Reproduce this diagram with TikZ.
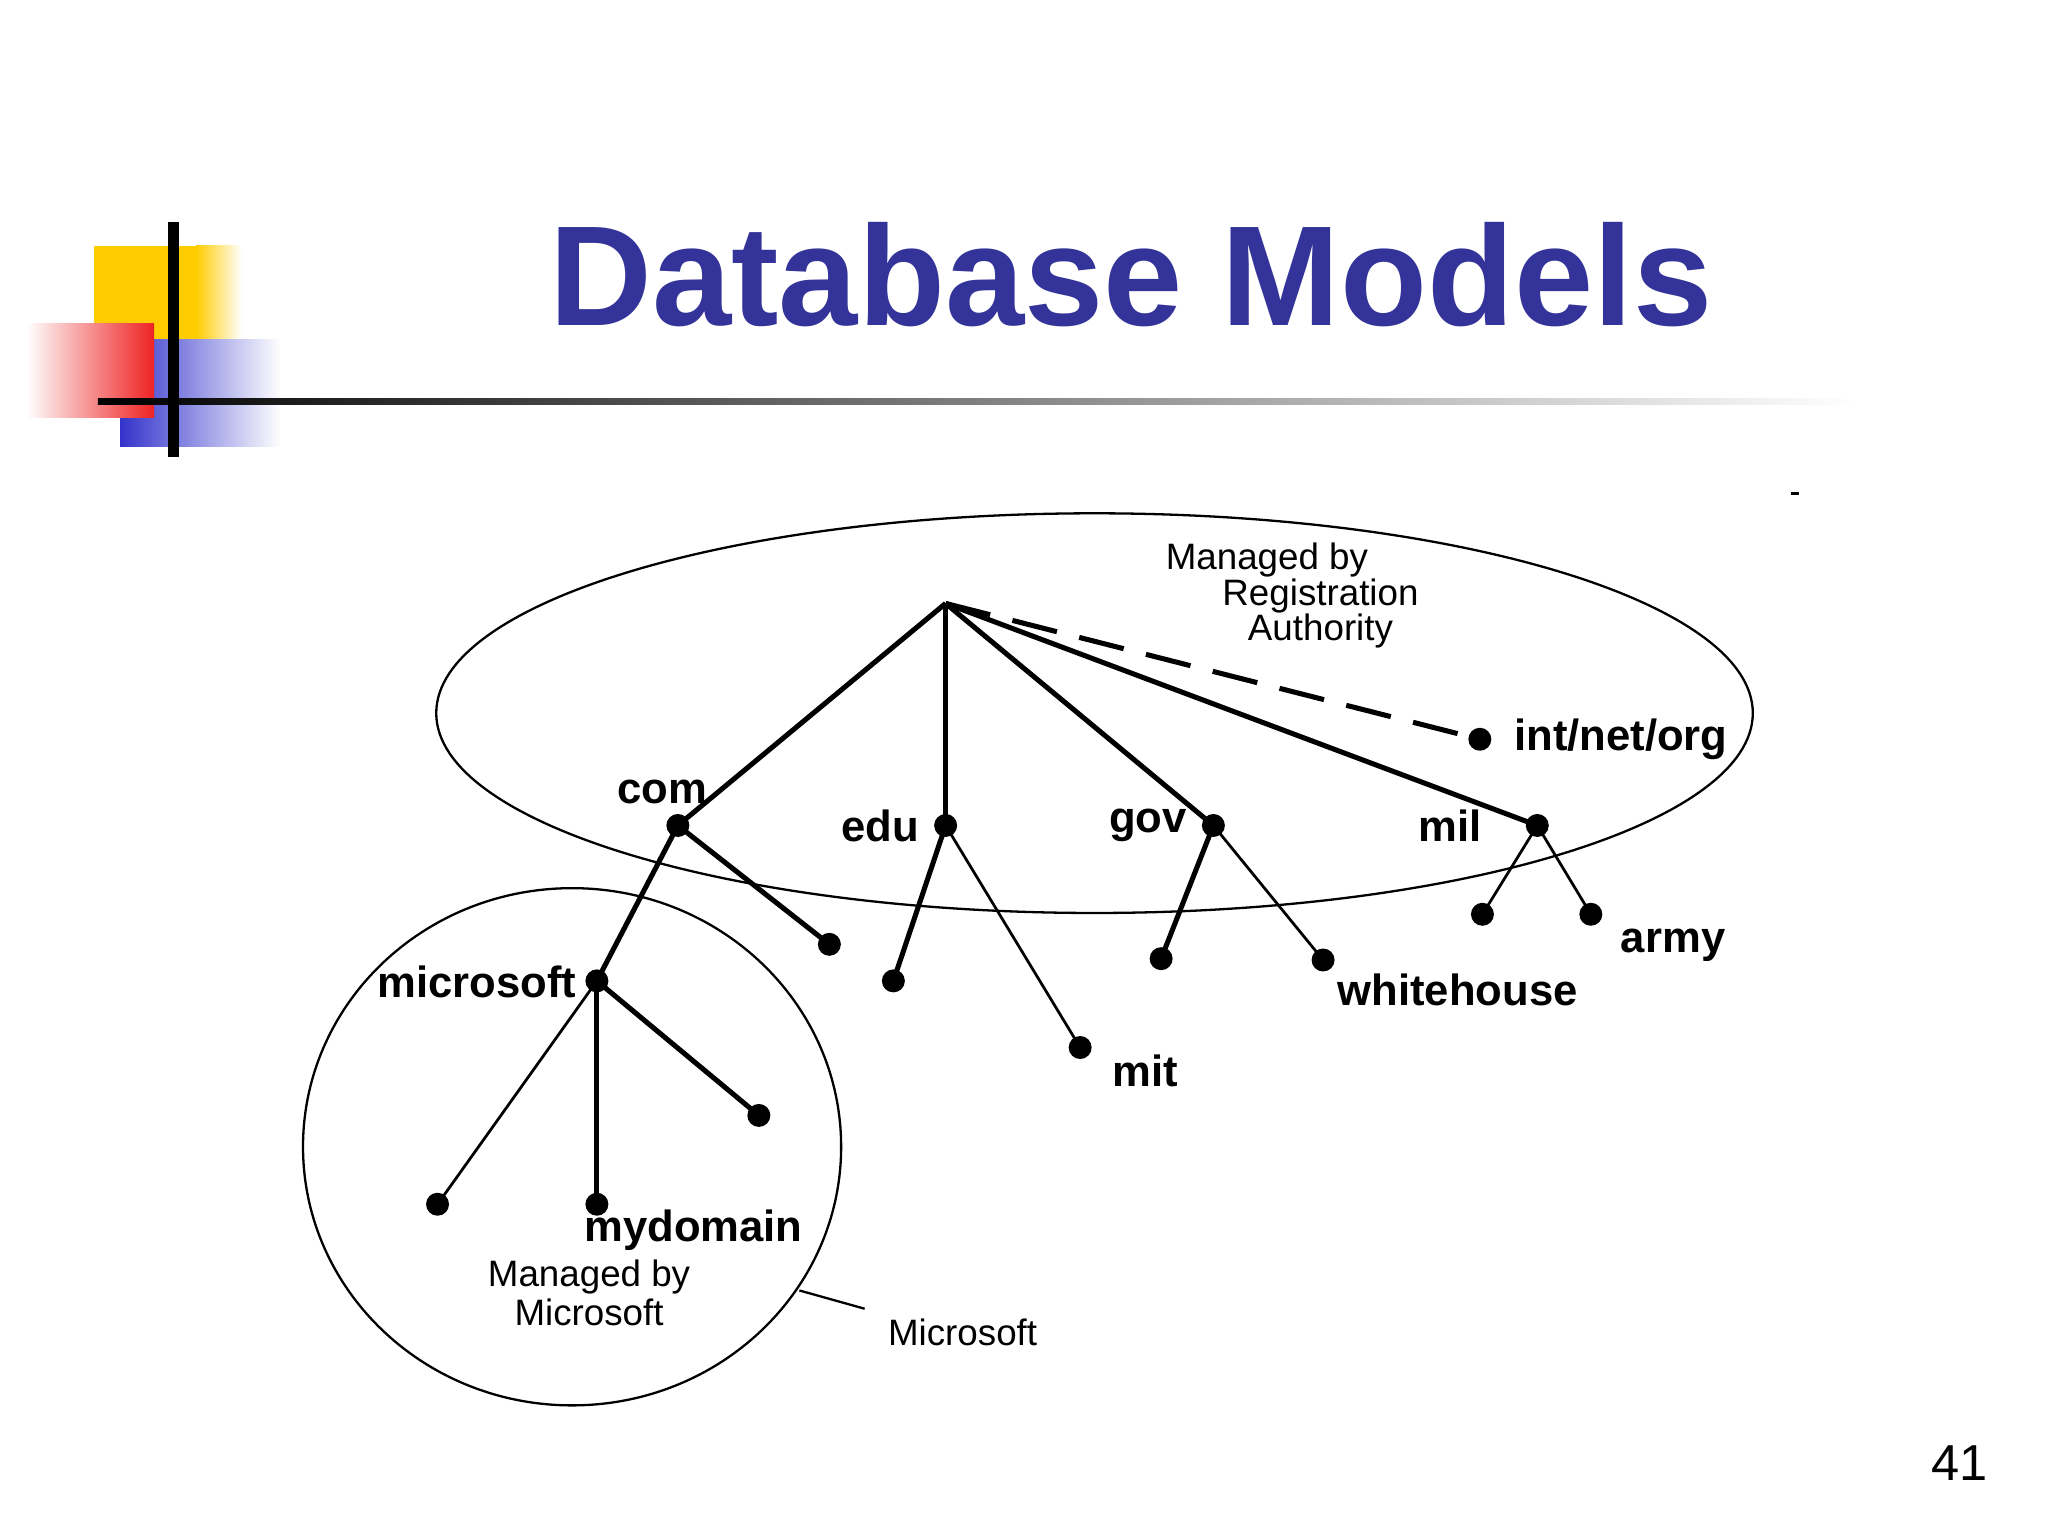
\documentclass[tikz,border=0pt]{standalone}
\usepackage{fontspec}
\setmainfont{Liberation Sans}
\definecolor{tblue}{HTML}{333399}
\definecolor{lyel}{HTML}{FFCC00}
\definecolor{lred}{HTML}{EE2222}
\definecolor{lblue}{HTML}{3333CC}
\begin{document}
\begin{tikzpicture}[x=0.01cm,y=-0.01cm,
  dot/.style={circle,fill=black,inner sep=0pt,minimum size=5pt},
  lab/.style={font=\bfseries\fontsize{9.5}{11}\selectfont},
  thin/.style={font=\fontsize{8}{9.5}\selectfont},
  edge/.style={line width=1.1pt}]
\useasboundingbox (0,0) rectangle (1568,1176);
% logo
\fill[lyel] (72,188) rectangle (150,262);
\shade[left color=lyel,right color=white] (150,188) rectangle (185,262);
\shade[left color=lblue,right color=white] (92,260) rectangle (215,342);
\shade[left color=white,right color=lred] (20,248) rectangle (118,320);
\shade[left color=black,right color=white] (75,305) rectangle (1420,310);
\draw[line width=2.5pt] (133,170) -- (133,350);
% title
\node[font=\bfseries\fontsize{31}{36}\selectfont,text=tblue] (title) at (866,210) {Database Models};
% shapes
\draw[line width=0.5pt] (838,546) ellipse [x radius=504,y radius=153];
\draw[line width=0.5pt] (438,878) ellipse [x radius=206,y radius=198];
% nodes
\node[inner sep=0pt] (root) at (724,462) {};
\node[dot] (com) at (519,632) {};
\node[dot] (edu) at (724,632) {};
\node[dot] (gov) at (929,632) {};
\node[dot] (mil) at (1177,632) {};
\node[dot] (ino) at (1133,566) {};
\node[dot] (c1) at (635,723) {};
\node[dot] (ms) at (457,751) {};
\node[dot] (m1) at (335,922) {};
\node[dot] (m2) at (457,922) {};
\node[dot] (m3) at (581,854) {};
\node[dot] (e1) at (684,751) {};
\node[dot] (e2) at (827,802) {};
\node[dot] (g1) at (889,734) {};
\node[dot] (g2) at (1013,735) {};
\node[dot] (l1) at (1135,700) {};
\node[dot] (l2) at (1218,700) {};
\draw[edge] (root.center) -- (com.center);
\draw[edge] (root.center) -- (edu.center);
\draw[edge] (root.center) -- (gov.center);
\draw[edge] (root.center) -- (mil.center);
\draw[edge,dash pattern=on 10pt off 5pt] (root.center) -- (ino.center);
\draw[edge] (com.center) -- (c1.center);
\draw[edge] (com.center) -- (ms.center);
\draw[edge,line width=0.6pt] (ms.center) -- (m1.center);
\draw[edge] (ms.center) -- (m2.center);
\draw[edge] (ms.center) -- (m3.center);
\draw[edge] (edu.center) -- (e1.center);
\draw[edge,line width=0.6pt] (edu.center) -- (e2.center);
\draw[edge] (gov.center) -- (g1.center);
\draw[edge,line width=0.6pt] (gov.center) -- (g2.center);
\draw[edge,line width=0.6pt] (mil.center) -- (l1.center);
\draw[edge,line width=0.6pt] (mil.center) -- (l2.center);
% labels
\node[lab] (tcom) at (507,606) {com};
\node[lab] (tedu) at (674,632) {edu};
\node[lab] (tgov) at (879,632) {gov};
\node[lab] (tmil) at (1110,632) {mil};
\node[lab] (tino) at (1241,566) {int/net/org};
\node[lab] (tarmy) at (1281,724) {army};
\node[lab] (twh) at (1116,758) {whitehouse};
\node[lab] (tmit) at (877,820) {mit};
\node[lab] (tms) at (365,752) {microsoft};
\node[lab] (tmy) at (531,942) {mydomain};
\node[thin] (a1) at (970,429) {Managed by};
\node[thin] (a2) at (1011,456) {Registration};
\node[thin] (a3) at (1011,483) {Authority};
\node[thin] (b1) at (451,978) {Managed by};
\node[thin] (b2) at (451,1005) {Microsoft};
\node[thin] (msl) at (737,1020) {Microsoft};
\coordinate (p1) at (612,988);
\draw[line width=0.5pt] (p1) -- (662,1002);
\coordinate (d1) at (1371,378);
\draw[line width=0.6pt] (d1) -- ++(6,0);
\node[font=\fontsize{11}{13}\selectfont] (num) at (1500,1120) {41};
\end{tikzpicture}
\end{document}
